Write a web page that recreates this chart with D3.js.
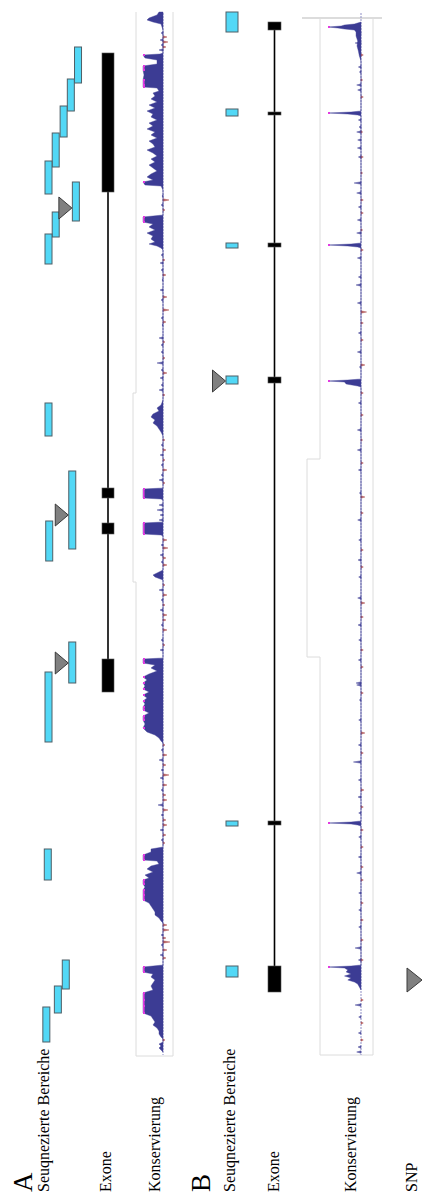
<!DOCTYPE html>
<html>
<head>
<meta charset="utf-8">
<script src="https://cdn.jsdelivr.net/npm/d3@7/dist/d3.min.js"></script>
<style>
  body { margin: 0; background: #fff; }
  text { font-family: "Liberation Serif", "Times New Roman", serif; fill: #000; }
</style>
</head>
<body>
<div id="chart"></div>
<script>
// Genomic region shown (kb), runs top -> bottom of the page
var regionKb = [0, 104.5];

// ---------- Panel A ----------
// sequenced regions: [start kb, end kb, lane]
var seqA = [
  [3.6, 7.2, 4.1], [6.8, 10.0, 3.1], [9.5, 12.6, 2.1], [12.2, 15.6, 1.0],
  [15.0, 18.3, 0], [17.1, 21.0, 3.8], [20.1, 22.6, 1.0], [22.3, 25.3, 0],
  [39.2, 42.5, 0], [46.0, 53.8, 3.3], [51.0, 55.0, 0.1], [63.1, 67.2, 3.3],
  [66.1, 73.1, 0], [83.8, 86.9, -0.1], [94.9, 97.8, 2.4], [97.5, 100.2, 1.3],
  [99.6, 103.1, -0.3]
];
// SNPs: [position kb, lane of the region they sit on]
var snpA = [[19.7, 3.8], [50.4, 3.3], [65.2, 3.3]];
// exons: [start kb, end kb]
var exonA = [[4.2, 18.1], [47.7, 48.7], [51.2, 52.3], [64.8, 68.1]];
// conservation track steps (kb) where the frame shifts
var frameStepA = [38.2, 57.1];

// conservation profile A: [kb, score 0..10]
var consA = [
  [0.1,2],[0.4,3],[0.7,7],[0.9,8],[1.1,5],[1.3,1],[1.6,0.5],[1.9,0],
  [4.2,0],[4.3,1.5],[4.4,10],[4.7,9],[4.9,3],[5.3,3],[5.5,10],[5.9,10],[6.4,9.5],[6.9,10],[7.4,10],[7.6,10],
  [7.7,3],[8.0,2],[8.2,5],[8.5,4],[8.8,6],[9.1,3],[9.4,7],[9.7,4],[10.0,8],[10.3,5],[10.6,6],[10.9,3],
  [11.2,7],[11.5,5],[11.8,8],[12.1,4],[12.4,6],[12.7,3],[13.0,7],[13.3,5],[13.6,4],[13.9,8],[14.2,5],
  [14.5,3],[14.8,6],[15.1,4],[15.4,7],[15.7,5],[16.0,3],[16.3,6],[16.6,8],[16.9,5],[17.1,10],[17.4,9],
  [17.5,1],[17.7,0.5],[17.9,0],
  [20.4,0],[20.6,10],[21.1,10],[21.3,5],[21.6,7],[21.9,4],[22.2,8],[22.5,5],[22.8,6],[23.1,4],[23.3,7],
  [23.5,3],[23.7,1],[23.9,0],
  [38.9,0],[39.4,1],[39.7,3],[40.0,2],[40.3,5],[40.6,6],[40.9,4],[41.2,5],[41.5,3],[41.8,2],[42.1,1],[42.5,0],
  [47.7,0],[47.8,10],[48.7,10],[48.8,1],[48.9,0],
  [51.1,0],[51.2,10],[52.3,10],[52.4,1],[52.5,0],
  [55.9,0],[56.2,3],[56.4,5],[56.6,4],[56.9,0],
  [64.7,0],[64.8,10],[65.2,10],[65.4,4],[65.7,6],[66.0,3],[66.3,7],[66.6,10],[66.9,8],[67.2,10],[67.5,9],
  [67.8,10],[68.1,7],[68.4,10],[68.7,8],[69.0,10],[69.3,9],[69.6,10],[69.9,10],[70.2,7],[70.5,10],[70.9,10],
  [71.3,9],[71.7,10],[72.1,8],[72.4,4],[72.7,2],[73.0,1],[73.2,0],
  [83.6,0],[83.8,6],[84.1,6],[84.4,10],[84.9,10],[85.0,3],[85.3,2],[85.5,6],[85.8,8],[86.1,5],[86.4,9],
  [86.7,7],[86.9,10],[87.3,10],[87.6,9],[87.9,10],[88.4,10],[88.9,10],[89.2,7],[89.5,6],[89.8,5],[90.1,4],
  [90.4,4],[90.7,2],[91.0,1],[91.2,0],
  [95.4,0],[95.6,10],[96.1,10],[96.3,5],[96.6,6],[96.9,4],[97.2,5],[97.5,6],[97.9,5],[98.2,10],[98.9,10],
  [99.5,10],[100.2,10],[100.5,6],[100.8,5],[101.1,4],[101.4,5],[101.7,3],[102.0,2],[102.3,2],[102.6,1],[102.8,0],
  [103.1,0],[103.3,2],[103.5,1],[103.7,2],[103.9,1],[104.1,0]
];
// small single spikes A: [kb, score] (negative = red)
var spikeA = [
  [2.2,1],[2.9,1.5],[3.4,1],[3.9,2],[18.5,0.5],[19.4,1],[24.4,1],[25.2,1.5],[25.9,1],[26.9,0.5],[27.9,1.5],
  [28.9,1],[30.7,1],[31.4,0.5],[32.7,2],[33.4,1],[34.1,1],[35.2,3],[35.9,1],[36.7,1.5],[37.4,1],[37.9,2],
  [43.4,1],[44.4,1.5],[45.4,1],[46.4,1],[46.9,2],[49.4,2],[49.9,3],[50.4,1.5],[50.9,2],[53.4,1],[54.4,1.5],
  [55.1,1],[57.9,2],[58.9,1],[59.9,1.5],[61.4,1],[62.9,1],[63.9,1.5],[73.9,1],[74.9,2],[75.9,1],[76.7,1.5],
  [77.9,1],[79.4,2.5],[80.4,1],[81.9,1.5],[82.9,1],[92.4,1],[93.4,1],[94.4,1.5],
  [2.6,-2],[3.1,-2.5],[3.6,-1.5],[18.9,-3],[19.9,-1],[24.9,-1],[26.4,-1.5],[28.6,-2],[29.9,-3],[31.1,-1.5],
  [33.1,-1],[34.7,-1],[36.2,-2],[38.4,-1],[42.9,-1],[43.9,-1.5],[44.9,-1],[45.9,-2],[47.2,-1],[52.9,-2],
  [53.7,-2.5],[54.7,-1.5],[55.4,-2],[57.4,-1],[58.4,-2],[59.4,-1],[60.4,-2],[60.9,-1.5],[61.9,-2],[63.4,-1],
  [73.4,-1],[74.4,-2],[75.4,-1.5],[76.4,-3],[77.4,-2],[78.4,-1.5],[78.9,-2],[79.9,-2.5],[80.9,-1.5],[81.4,-2],
  [82.4,-1.5],[83.2,-1],[91.4,-2],[91.9,-3],[92.7,-1.5],[93.1,-3.5],[93.9,-2],[94.7,-1.5],[102.9,-1]
];

// ---------- Panel B ----------
var seqB = [[0.1, 2.1], [9.8, 10.5], [23.2, 23.7], [36.5, 37.3], [81.0, 81.5], [95.5, 96.6]];
var snpB = [37.0];
var exonB = [[1.1, 1.9], [10.1, 10.4], [23.2, 23.6], [36.6, 37.2], [81.0, 81.4], [95.5, 98.1]];
var frameStepB = [44.8, 64.6];

var consB = [
  [1.1,0],[1.3,2],[1.4,5],[1.5,6],[1.6,10],[1.7,7],[1.8,5],[1.9,2],[2.1,1.5],[2.5,1.5],[3.0,1],[3.5,1.2],
  [4.0,0.8],[4.5,0.5],[5.0,0],
  [10.0,0],[10.1,3],[10.2,10],[10.3,4],[10.4,1],[10.5,0],
  [23.2,0],[23.3,3],[23.4,10],[23.5,4],[23.6,1],[23.7,0],
  [36.8,0],[36.9,4],[37.0,10],[37.1,5],[37.3,4.5],[37.5,1],[37.6,0],
  [81.0,0],[81.1,3],[81.2,10],[81.3,3],[81.4,1],[81.5,0],
  [95.4,0],[95.5,3],[95.6,10],[95.7,5],[95.9,4],[96.1,4.5],[96.3,3],[96.5,5],[96.7,3],[96.9,4],[97.1,2],
  [97.3,1],[97.6,0.5],[97.9,0]
];
var spikeB = [
  [2.2,1.3],[3.2,1.8],[5.6,0.8],[6.1,0.5],[7.4,1.3],[7.9,1],[10.9,0.8],[11.6,0.6],[12.1,1.3],[12.9,1],
  [13.7,1.1],[14.6,0.8],[17.2,2.1],[18.2,1.3],[19.6,0.8],[20.9,1.1],[22.2,1.3],[24.7,1.1],[26.6,0.8],
  [27.4,1.5],[29.2,1.1],[32.2,0.8],[34.1,1.1],[35.6,0.5],[39.2,0.8],[41.9,1.1],[43.9,1.1],[45.9,0.8],
  [48.2,0.5],[50.9,1],[52.9,0.7],[54.9,0.9],[56.6,0.7],[58.7,1],[61.4,0.9],[62.9,0.7],[64.9,0.8],[67.2,1.5],
  [67.4,1.3],[68.9,0.5],[70.9,0.7],[73.4,0.8],[75.1,2.3],[76.9,0.8],[78.6,0.9],[80.2,0.7],[82.6,0.7],
  [84.6,0.8],[86.2,1.3],[88.2,0.7],[89.9,0.7],[91.6,0.7],[93.7,1.8],[94.9,0.8],[99.4,1.8],[100.6,0.7],
  [102.2,0.8],[103.6,0.9],[104.1,1.3],
  [4.4,-0.7],[6.9,-0.5],[8.6,-0.7],[12.1,-0.5],[14.6,-0.7],[16.2,-0.5],[18.9,-0.7],[20.2,-0.7],[21.9,-0.5],
  [23.9,-0.7],[30.1,-1.7],[31.2,-0.7],[32.9,-0.7],[35.4,-1.2],[38.2,-0.7],[40.4,-0.7],[42.9,-0.5],[45.2,-0.7],
  [48.6,-1.2],[50.2,-0.7],[53.9,-0.7],[55.6,-0.7],[59.2,-1.2],[60.6,-0.7],[63.9,-0.7],[65.6,-0.7],[68.2,-0.7],
  [72.2,-1.2],[74.2,-0.7],[77.9,-0.9],[79.6,-0.7],[81.9,-0.7],[83.6,-0.7],[85.6,-0.7],[86.9,-0.7],[89.2,-0.7],
  [90.9,-0.7],[92.9,-0.7],[94.9,-0.7],[98.9,-0.7],[101.2,-0.7],[102.9,-0.7]
];

// track labels
var labelsA = ["Seuqnezierte Bereiche", "Exone", "Konservierung"];
var labelsB = ["Seuqnezierte Bereiche", "Exone", "Konservierung"];
var legendLabel = "SNP";

// ---------- Set up ----------
var svgWidth = 426;
var svgHeight = 1195;

var svg = d3.select("#chart")
  .append("svg")
  .attr("width", svgWidth)
  .attr("height", svgHeight);

var y = d3.scaleLinear().domain(regionKb).range([11, 1056]);

var colors = {
  seq: "#52d8f6", seqStroke: "#4f5f66",
  snp: "#808080", snpStroke: "#3a3a3a",
  blue: "#3c3c94", base: "#8f8fc6", red: "#a84444", magenta: "#e03ce0",
  frame: "#dcdcdc"
};

// lane offsets for staggered sequenced regions in A
var laneA = d3.scaleLinear().domain([0, 4]).range([45, 73.8]);
var seqWidthA = 7;

// conservation scales (score -> x)
var consXA = d3.scaleLinear().domain([0, 10]).range([163, 143]);
var consXB = d3.scaleLinear().domain([0, 10]).range([361, 328]);

// ---------- helpers ----------
function drawSeq(g, data, xLeft, w) {
  g.selectAll("rect.seq")
    .data(data)
    .enter()
    .append("rect")
    .attr("class", "seq")
    .attr("x", xLeft)
    .attr("y", d => y(d[0]))
    .attr("width", w)
    .attr("height", d => y(d[1]) - y(d[0]))
    .attr("fill", colors.seq)
    .attr("stroke", colors.seqStroke)
    .attr("stroke-width", 1);
}

function triangle(tipX, tipY, w, h) {
  return `M${tipX},${tipY} L${tipX - w},${tipY - h / 2} L${tipX - w},${tipY + h / 2} Z`;
}

function drawExons(g, data, xLeft, w) {
  var lineX = xLeft + w / 2;
  g.append("line")
    .attr("x1", lineX).attr("x2", lineX)
    .attr("y1", y(data[0][1]))
    .attr("y2", y(data[data.length - 1][0]))
    .attr("stroke", "#000")
    .attr("stroke-width", 1.6);

  g.selectAll("rect.exon")
    .data(data)
    .enter()
    .append("rect")
    .attr("class", "exon")
    .attr("x", xLeft)
    .attr("y", d => y(d[0]))
    .attr("width", w)
    .attr("height", d => Math.max(2.5, y(d[1]) - y(d[0])))
    .attr("fill", "#000")
    .attr("stroke", "#555")
    .attr("stroke-width", 0.6);
}

function drawFrame(g, xl, xr, xStep, steps, top, bottom) {
  var p = d3.path();
  p.moveTo(xl, y(top));
  p.lineTo(xl, y(steps[0]));
  p.lineTo(xStep, y(steps[0]));
  p.lineTo(xStep, y(steps[1]));
  p.lineTo(xl, y(steps[1]));
  p.lineTo(xl, y(bottom));
  p.lineTo(xr, y(bottom));
  p.lineTo(xr, y(top));
  g.append("path")
    .attr("d", p.toString())
    .attr("fill", "none")
    .attr("stroke", colors.frame)
    .attr("stroke-width", 1);
}

function drawConservation(g, profile, spikes, xs) {
  var base = xs(0);

  // faint baseline
  g.append("line")
    .attr("x1", base).attr("x2", base)
    .attr("y1", y(0.2)).attr("y2", y(104.4))
    .attr("stroke", colors.base)
    .attr("stroke-width", 1)
    .attr("stroke-dasharray", "2,1");

  // noise spikes
  g.selectAll("path.spike")
    .data(spikes)
    .enter()
    .append("path")
    .attr("class", "spike")
    .attr("d", d => {
      var yy = y(d[0]);
      return `M${base},${yy - 1.2} L${xs(d[1])},${yy} L${base},${yy + 1.2} Z`;
    })
    .attr("fill", d => d[1] < 0 ? colors.red : colors.blue)
    .attr("stroke", d => d[1] < 0 ? colors.red : colors.blue)
    .attr("stroke-width", 0.5)
    .attr("opacity", 0.85);

  var area = d3.area()
    .y(d => y(d[0]))
    .x0(base)
    .x1(d => xs(d[1]));

  g.append("path")
    .datum(profile)
    .attr("d", area)
    .attr("fill", colors.blue)
    .attr("stroke", colors.blue)
    .attr("stroke-width", 0.4);

  // saturated values in magenta
  var topLine = d3.line()
    .defined(d => d[1] >= 10)
    .y(d => y(d[0]))
    .x(xs(10) + 0.8);

  g.append("path")
    .datum(profile)
    .attr("d", topLine)
    .attr("fill", "none")
    .attr("stroke", colors.magenta)
    .attr("stroke-width", 1.6);

  g.selectAll("rect.sat")
    .data(profile.filter(d => d[1] >= 10))
    .enter()
    .append("rect")
    .attr("class", "sat")
    .attr("x", xs(10))
    .attr("y", d => y(d[0]) - 1)
    .attr("width", 2)
    .attr("height", 2)
    .attr("fill", colors.magenta);
}

function addLabel(text, xBase, size) {
  svg.append("text")
    .attr("transform", `translate(${xBase}, 1192) rotate(-90)`)
    .attr("font-size", size)
    .text(text);
}

// ---------- Panel A ----------
var groupA = svg.append("g");

drawFrame(groupA, 136, 173, 133, frameStepA, 0.1, 104.5);
drawConservation(groupA, consA, spikeA, consXA);
drawExons(groupA, exonA, 102, 12);

groupA.selectAll("rect.seq")
  .data(seqA)
  .enter()
  .append("rect")
  .attr("class", "seq")
  .attr("x", d => laneA(d[2]))
  .attr("y", d => y(d[0]))
  .attr("width", seqWidthA)
  .attr("height", d => y(d[1]) - y(d[0]))
  .attr("fill", colors.seq)
  .attr("stroke", colors.seqStroke)
  .attr("stroke-width", 1);

groupA.selectAll("path.snp")
  .data(snpA)
  .enter()
  .append("path")
  .attr("class", "snp")
  .attr("d", d => triangle(laneA(d[1]) - 0.5, y(d[0]), 13, 22))
  .attr("fill", colors.snp)
  .attr("stroke", colors.snpStroke)
  .attr("stroke-width", 1);

// ---------- Panel B ----------
var groupB = svg.append("g");

drawFrame(groupB, 320, 373, 307, frameStepB, 0.7, 104.4);
groupB.append("line")
  .attr("x1", 302).attr("x2", 382)
  .attr("y1", y(0.7)).attr("y2", y(0.7))
  .attr("stroke", colors.frame)
  .attr("stroke-width", 2);
drawConservation(groupB, consB, spikeB, consXB);
drawExons(groupB, exonB, 268, 13);
drawSeq(groupB, seqB, 226, 12);

groupB.selectAll("path.snp")
  .data(snpB)
  .enter()
  .append("path")
  .attr("class", "snp")
  .attr("d", d => triangle(225.5, y(d), 13, 22))
  .attr("fill", colors.snp)
  .attr("stroke", colors.snpStroke)
  .attr("stroke-width", 1);

// ---------- labels ----------
addLabel("A", 32, 27);
addLabel(labelsA[0], 49, 16);
addLabel(labelsA[1], 111, 16);
addLabel(labelsA[2], 160, 16);
addLabel("B", 210, 27);
addLabel(labelsB[0], 235, 16);
addLabel(labelsB[1], 279, 16);
addLabel(labelsB[2], 356, 16);
addLabel(legendLabel, 417, 16);

// SNP legend symbol
svg.append("path")
  .attr("d", triangle(422, 980, 15, 24))
  .attr("fill", colors.snp)
  .attr("stroke", colors.snpStroke)
  .attr("stroke-width", 1);
</script>
</body>
</html>
